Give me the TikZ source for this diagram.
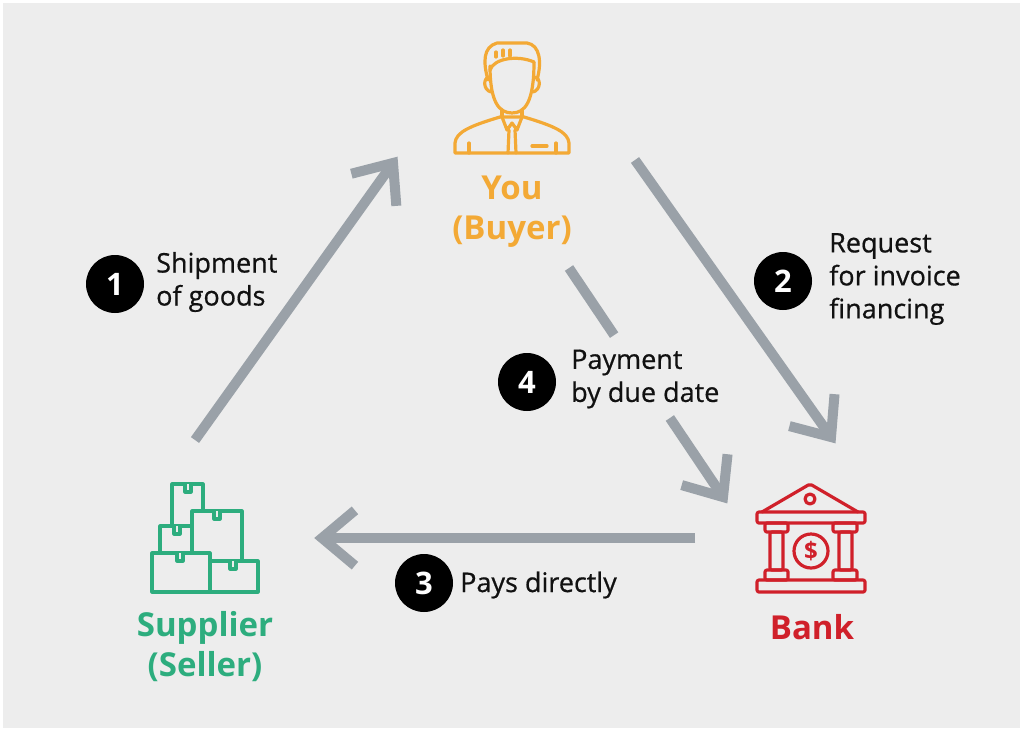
\documentclass[tikz,border=0pt]{standalone}
\usepackage{fontspec}
\setmainfont{Open Sans}
\newfontfamily\semib[FakeBold=0.6]{Open Sans}
\usetikzlibrary{calc}
\definecolor{bg}{HTML}{EDEDED}
\definecolor{arrowgrey}{HTML}{9AA1A8}
\definecolor{buyer}{HTML}{F3A935}
\definecolor{seller}{HTML}{2DAD7E}
\definecolor{bankred}{HTML}{D0202A}
\definecolor{ink}{HTML}{111111}
\newcommand\mychev[2]{\draw[arrowline, line join=miter] ($(#2)!43pt!40:(#1)$) -- (#2) -- ($(#2)!43pt!-40:(#1)$);}
\begin{document}
\begin{tikzpicture}[x=1pt,y=-1pt,
  arrowline/.style={draw=arrowgrey, line width=10pt},
  badge/.style={circle, fill=black, minimum size=58pt, inner sep=0pt, text=white, font=\fontsize{31}{31}\selectfont\bfseries},
  steptext/.style={anchor=west, align=left, inner sep=0pt, text=ink, font=\semib\fontsize{27}{33}\selectfont},
  actor/.style={align=center, inner sep=0pt, font=\fontsize{33}{40}\selectfont\bfseries},
  icon/.style={line width=3.2pt, line join=round, line cap=round},
  boxic/.style={icon, draw=seller, fill=bg},
  bankic/.style={icon, draw=bankred, rounded corners=2pt}]
\useasboundingbox (0,0) rectangle (1024,731);
\fill[white] (0,0) rectangle (1024,731);
\fill[bg] (3,3) rectangle (1020,728);

% ---------- arrows ----------
\coordinate (a1s) at (195,440); \coordinate (a1e) at (393,163);
\coordinate (a2s) at (635,160); \coordinate (a2e) at (831,437);
\coordinate (a3s) at (695,538); \coordinate (a3e) at (322,538);
\coordinate (a4s) at (569,268); \coordinate (a4e) at (723,497);
\coordinate (a4m1) at ($(a4s)!0.293!(a4e)$);
\coordinate (a4m2) at ($(a4s)!0.655!(a4e)$);
\draw[arrowline] (a1s) -- (a1e); \mychev{a1s}{a1e}
\draw[arrowline] (a2s) -- (a2e); \mychev{a2s}{a2e}
\draw[arrowline] (a3s) -- (a3e); \mychev{a3s}{a3e}
\draw[arrowline] (a4s) -- (a4m1);
\draw[arrowline] (a4m2) -- (a4e); \mychev{a4s}{a4e}

% ---------- step badges and texts ----------
\node[badge] (b1) at (115,284) {1};
\node[steptext] (t1) at (156,282) {Shipment\\of goods};
\node[badge] (b2) at (783,281) {2};
\node[steptext] (t2) at (829,279) {Request\\for invoice\\financing};
\node[badge] (b3) at (424,583) {3};
\node[steptext] (t3) at (460,585) {Pays directly};
\node[badge] (b4) at (527,382) {4};
\node[steptext] (t4) at (571,379) {Payment\\by due date};

% ---------- actor names ----------
\node[actor, text=buyer] (buyer) at (512,212) {You\\(Buyer)};
\node[actor, text=seller] (seller) at (205,647) {Supplier\\(Seller)};
\node[actor, text=bankred] (bank) at (812,627) {Bank};

% ---------- buyer icon ----------
\begin{scope}[icon, draw=buyer]
  \draw (490,66) .. controls (490,102) and (499,113) .. (512,113) .. controls (525,113) and (534,102) .. (534,62);
  \draw (488,80) .. controls (483,62) and (483,47) .. (497,43) -- (527,43) .. controls (540,45) and (542,62) .. (537,80);
  \draw (490,70) .. controls (494,58) and (518,55) .. (534,62);
  \draw (496,52) -- (496,57); \draw (503,50) -- (503,56); \draw (510,50) -- (510,56);
  \draw (489,77) .. controls (483,78) and (483,90) .. (491,92);
  \draw (535,77) .. controls (541,78) and (541,90) .. (533,92);
  \draw (502,110) -- (502,117); \draw (522,110) -- (522,117);
  \draw (455,153) -- (455,143) .. controls (456,132) and (470,126) .. (500,117) -- (524,117) .. controls (554,126) and (568,132) .. (569,143) -- (569,153) -- cycle;
  \draw (502,117) -- (507,130) -- (512,123) -- (517,130) -- (522,117);
  \draw (509,130) -- (508,153); \draw (515,130) -- (516,153);
  \draw (469,143) -- (469,153); \draw (556,143) -- (556,153);
  \draw (532,146) -- (547,146);
\end{scope}

% ---------- supplier icon ----------
\draw[boxic] (172,484) rectangle (203,526);
\draw[boxic] (185,484) -- (185,492) -- (191,492) -- (191,484);
\draw[boxic] (160,526) rectangle (192,553);
\draw[boxic] (174,526) -- (174,534) -- (180,534) -- (180,526);
\draw[boxic] (192,511) rectangle (242,561);
\draw[boxic] (214,511) -- (214,519) -- (220,519) -- (220,511);
\draw[boxic] (152,553) rectangle (210,592);
\draw[boxic] (177,553) -- (177,561) -- (183,561) -- (183,553);
\draw[boxic] (210,561) rectangle (258,592);
\draw[boxic] (230,561) -- (230,569) -- (236,569) -- (236,561);

% ---------- bank icon ----------
\begin{scope}[bankic]
  \draw (762,512) -- (810,484) -- (858,512);
  \draw (757,512) rectangle (865,523);
  \draw[rounded corners=0pt] (810,499) circle (5);
  \draw (765,523) rectangle (788,532);
  \draw (833,523) rectangle (857,532);
  \draw (770,532) rectangle (783,570);
  \draw (839,532) rectangle (852,570);
  \draw (765,570) rectangle (788,580);
  \draw (833,570) rectangle (857,580);
  \draw (757,580) rectangle (865,592);
  \draw[rounded corners=0pt] (811,551) circle (17);
\end{scope}
\node[text=bankred, inner sep=0pt, font=\fontsize{24}{24}\selectfont\bfseries] (dollar) at (811,551) {\$};
\end{tikzpicture}
\end{document}
